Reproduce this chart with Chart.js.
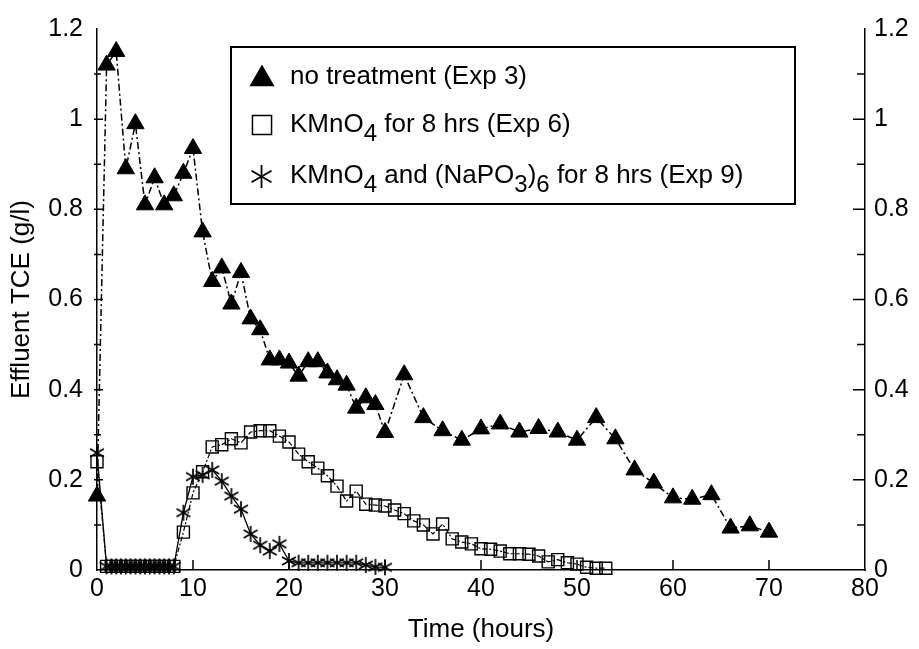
<!DOCTYPE html>
<html>
<head>
<meta charset="utf-8">
<script src="https://cdn.jsdelivr.net/npm/chart.js@4.4.1/dist/chart.umd.min.js"></script>
<style>
  html, body { margin: 0; padding: 0; background: #fff; }
  #wrap { width: 919px; height: 649px; }
</style>
</head>
<body>
<div id="wrap"><canvas id="tce-chart"></canvas></div>
<script>
(function () {
    "use strict";

    // Axis ticks
    var xTicks = [0, 10, 20, 30, 40, 50, 60, 70, 80];
    var yTicks = [0, 0.2, 0.4, 0.6, 0.8, 1, 1.2];

    // Exp 3 - no treatment
    var exp3Time = [0, 1, 2, 3, 4, 5, 6, 7, 8, 9, 10, 11, 12, 13, 14, 15, 16, 17, 18, 19, 20,
        21, 22, 23, 24, 25, 26, 27, 28, 29, 30, 32, 34, 36, 38, 40, 42, 44, 46, 48, 50,
        52, 54, 56, 58, 60, 62, 64, 66, 68, 70];
    var exp3TCE = [0.164, 1.12, 1.15, 0.89, 0.99, 0.81, 0.87, 0.81, 0.83, 0.88, 0.935,
        0.75, 0.64, 0.67, 0.59, 0.66, 0.557, 0.533, 0.466, 0.466, 0.459,
        0.43, 0.462, 0.462, 0.437, 0.422, 0.41, 0.359, 0.382, 0.367, 0.305,
        0.433, 0.338, 0.309, 0.288, 0.313, 0.324, 0.306, 0.314, 0.306, 0.288,
        0.338, 0.291, 0.222, 0.193, 0.16, 0.157, 0.167, 0.093, 0.098, 0.084];

    // Exp 6 - KMnO4 for 8 hrs
    var exp6Time = [0, 1, 1.5, 2, 2.5, 3, 3.5, 4, 4.5, 5, 5.5, 6, 6.5, 7, 7.5, 8,
        9, 10, 11, 12, 13, 14, 15, 16, 17, 18, 19, 20, 21, 22, 23, 24, 25, 26, 27, 28,
        29, 30, 31, 32, 33, 34, 35, 36, 37, 38, 39, 40, 41, 42, 43, 44, 45, 46, 47, 48,
        49, 50, 51, 52, 53];
    var exp6TCE = [0.24, 0.008, 0.008, 0.008, 0.008, 0.008, 0.008, 0.008, 0.008, 0.008,
        0.008, 0.008, 0.008, 0.008, 0.008, 0.008,
        0.084, 0.171, 0.218, 0.273, 0.278, 0.291, 0.282, 0.306, 0.309, 0.309, 0.297,
        0.284, 0.257, 0.24, 0.226, 0.209, 0.186, 0.153, 0.175, 0.146,
        0.144, 0.142, 0.133, 0.125, 0.109, 0.1, 0.08, 0.102, 0.069, 0.062, 0.058,
        0.047, 0.046, 0.042, 0.036, 0.036, 0.035, 0.031, 0.018, 0.023,
        0.016, 0.013, 0.006, 0.004, 0.004];

    // Exp 9 - KMnO4 and (NaPO3)6 for 8 hrs
    var exp9Time = [0, 1, 1.5, 2, 2.5, 3, 3.5, 4, 4.5, 5, 5.5, 6, 6.5, 7, 7.5, 8,
        9, 10, 11, 12, 13, 14, 15, 16, 17, 18, 19, 20, 21, 22, 23, 24, 25, 26, 27, 28,
        29, 30];
    var exp9TCE = [0.26, 0.008, 0.008, 0.008, 0.008, 0.008, 0.008, 0.008, 0.008, 0.008,
        0.008, 0.008, 0.008, 0.008, 0.008, 0.008,
        0.127, 0.207, 0.211, 0.222, 0.197, 0.164, 0.135, 0.08, 0.055, 0.042, 0.058,
        0.02, 0.016, 0.016, 0.016, 0.016, 0.016, 0.016, 0.016, 0.011, 0.007, 0.006];

    var legendLabels = [
        "no treatment (Exp 3)",
        "KMnO_4 for 8 hrs (Exp 6)",
        "KMnO_4 and (NaPO_3)_6 for 8 hrs (Exp 9)"
    ];

    var FONT = "'Liberation Sans', Arial, Helvetica, sans-serif";
    var tickFont = { family: FONT, size: 25 };
    var titleFont = { family: FONT, size: 26 };

    function pairs(xs, ys) {
        return xs.map(function (x, i) { return { x: x, y: ys[i] }; });
    }

    // six-armed asterisk marker
    function makeStar(size, lw) {
        var c = document.createElement("canvas");
        c.width = c.height = size;
        var g = c.getContext("2d");
        g.strokeStyle = "#000";
        g.lineWidth = lw;
        var m = size / 2, r = size / 2 - 1;
        for (var k = 0; k < 3; k++) {
            var a = Math.PI / 2 + k * Math.PI / 3;
            g.beginPath();
            g.moveTo(m + r * Math.cos(a), m + r * Math.sin(a));
            g.lineTo(m - r * Math.cos(a), m - r * Math.sin(a));
            g.stroke();
        }
        return c;
    }
    var starPoint = makeStar(18, 1.7);

    // inward tick marks on left, right and bottom axes
    var innerTicks = {
        id: "innerTicks",
        afterDraw: function (chart) {
            var ctx = chart.ctx, a = chart.chartArea;
            var xs = chart.scales.x, ys = chart.scales.y;
            ctx.save();
            ctx.strokeStyle = "#000";
            ctx.lineWidth = 1.5;
            ctx.beginPath();
            xTicks.slice(1, -1).forEach(function (v) {
                var px = xs.getPixelForValue(v);
                ctx.moveTo(px, a.bottom);
                ctx.lineTo(px, a.bottom - 10);
            });
            for (var i = 1; i < yTicks.length * 2 - 2; i++) {
                var py = ys.getPixelForValue(i * 0.1);
                var major = i % 2 === 0;
                ctx.moveTo(a.left - 3, py);
                ctx.lineTo(a.left + (major ? 6 : 4), py);
                ctx.moveTo(a.right, py);
                ctx.lineTo(a.right - (major ? 12 : 8), py);
            }
            ctx.stroke();
            ctx.restore();
        }
    };

    function drawRich(ctx, str, x, y) {
        var parts = str.split(/_(\d)/);
        parts.forEach(function (p, i) {
            if (i % 2) {
                ctx.font = "24px " + FONT;
                ctx.fillText(p, x, y + 9);
            } else {
                ctx.font = "26px " + FONT;
                ctx.fillText(p, x, y);
            }
            x += ctx.measureText(p).width;
        });
    }

    // boxed legend inside the plot
    var boxLegend = {
        id: "boxLegend",
        afterDraw: function (chart) {
            var ctx = chart.ctx;
            var bx = 231, by = 47, bw = 564, bh = 157;
            ctx.save();
            ctx.fillStyle = "#fff";
            ctx.fillRect(bx, by, bw, bh);
            ctx.strokeStyle = "#000";
            ctx.lineWidth = 2;
            ctx.strokeRect(bx, by, bw, bh);

            var rows = [77, 125, 176];
            ctx.fillStyle = "#000";
            Chart.helpers.drawPoint(ctx, { pointStyle: "triangle", radius: 12.5, borderWidth: 1 }, 262, rows[0] + 2);
            ctx.fillStyle = "rgba(0,0,0,0)";
            ctx.lineWidth = 1.5;
            Chart.helpers.drawPoint(ctx, { pointStyle: "rect", radius: 13.5, borderWidth: 1.5 }, 262, rows[1]);
            ctx.drawImage(makeStar(25, 1.8), 249, rows[2] - 12);

            ctx.fillStyle = "#000";
            ctx.textBaseline = "middle";
            legendLabels.forEach(function (t, i) {
                drawRich(ctx, t, 290, rows[i]);
            });
            ctx.restore();
        }
    };

    var ctx1 = document.getElementById("tce-chart").getContext("2d");
    var myChart1 = new Chart(ctx1, {
        type: "line",
        data: {
            datasets: [
                {
                    label: "no treatment (Exp 3)",
                    data: pairs(exp3Time, exp3TCE),
                    borderColor: "#000",
                    borderWidth: 1.5,
                    borderDash: [7, 3, 2, 3],
                    pointStyle: "triangle",
                    pointRadius: 10,
                    pointBackgroundColor: "#000",
                    pointBorderColor: "#000",
                    pointBorderWidth: 1,
                    clip: false
                },
                {
                    label: "KMnO4 for 8 hrs (Exp 6)",
                    data: pairs(exp6Time, exp6TCE),
                    borderColor: "#000",
                    borderWidth: 1.2,
                    borderDash: [5, 2, 2, 2],
                    pointStyle: "rect",
                    pointRadius: 8.5,
                    pointBackgroundColor: "rgba(0,0,0,0)",
                    pointBorderColor: "#000",
                    pointBorderWidth: 1.4,
                    clip: false
                },
                {
                    label: "KMnO4 and (NaPO3)6 for 8 hrs (Exp 9)",
                    data: pairs(exp9Time, exp9TCE),
                    borderColor: "#000",
                    borderWidth: 1.3,
                    pointStyle: starPoint,
                    pointRadius: 9,
                    clip: false
                }
            ]
        },
        options: {
            responsive: true,
            maintainAspectRatio: false,
            animation: false,
            layout: { padding: { top: 20, left: 0, right: 0, bottom: 0 } },
            plugins: {
                legend: { display: false },
                tooltip: { enabled: false }
            },
            scales: {
                x: {
                    type: "linear",
                    min: 0,
                    max: 80,
                    afterBuildTicks: function (s) { s.ticks = xTicks.map(function (v) { return { value: v }; }); },
                    afterFit: function (s) { s.height = 79; },
                    grid: { display: false, drawTicks: false },
                    border: { display: true, color: "#000", width: 1.5 },
                    ticks: { color: "#000", font: tickFont, padding: 4, maxRotation: 0, autoSkip: false },
                    title: {
                        display: true, text: "Time (hours)", color: "#000", font: titleFont,
                        padding: { top: 0, bottom: 4 }
                    }
                },
                y: {
                    type: "linear",
                    position: "left",
                    min: 0,
                    max: 1.2,
                    afterBuildTicks: function (s) { s.ticks = yTicks.map(function (v) { return { value: v }; }); },
                    afterFit: function (s) { s.width = 97; },
                    grid: { display: false, drawTicks: false },
                    border: { display: true, color: "#000", width: 1.5 },
                    ticks: {
                        color: "#000", font: tickFont, padding: 14,
                        callback: function (v) { return String(Number(v.toFixed(1))); }
                    },
                    title: {
                        display: true, text: "Effluent TCE (g/l)", color: "#000", font: titleFont,
                        padding: { top: 6, bottom: 6 }
                    }
                },
                y2: {
                    type: "linear",
                    position: "right",
                    min: 0,
                    max: 1.2,
                    afterBuildTicks: function (s) { s.ticks = yTicks.map(function (v) { return { value: v }; }); },
                    afterFit: function (s) { s.width = 54; },
                    grid: { display: false, drawTicks: false },
                    border: { display: true, color: "#000", width: 1.5 },
                    ticks: {
                        color: "#000", font: tickFont, padding: 9,
                        callback: function (v) { return String(Number(v.toFixed(1))); }
                    }
                }
            }
        },
        plugins: [innerTicks, boxLegend]
    });

})();
</script>
</body>
</html>
